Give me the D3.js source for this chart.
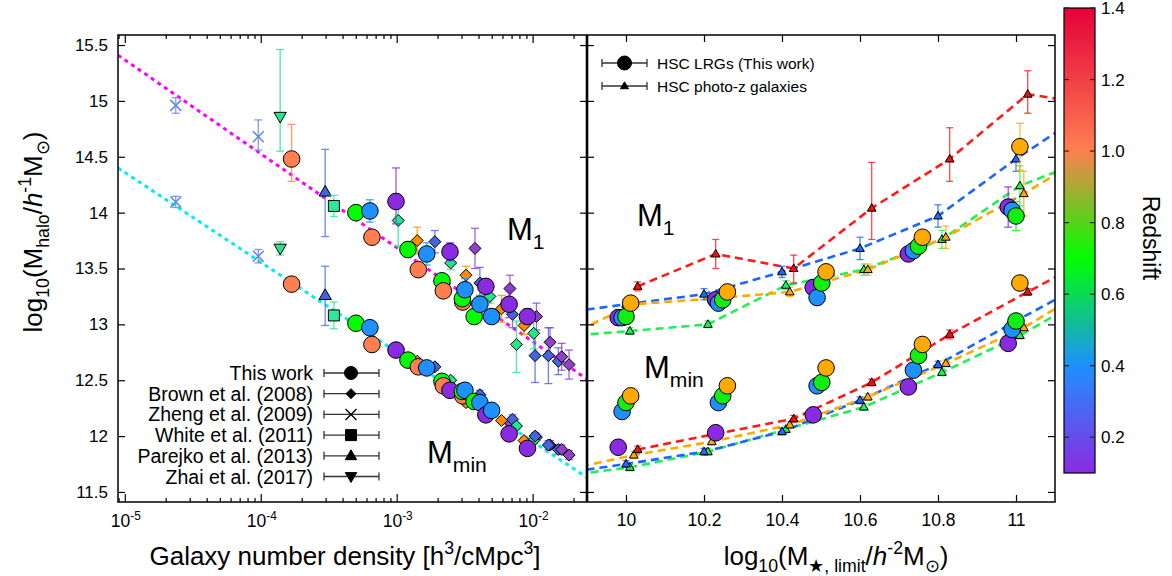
<!DOCTYPE html>
<html><head><meta charset="utf-8">
<script src="https://cdn.jsdelivr.net/npm/d3@7"></script>
<style>
html,body{margin:0;padding:0;background:#fff;}
svg text{font-family:"Liberation Sans",Arial,Helvetica,sans-serif;fill:#000;}
</style></head>
<body><svg id="chart" width="1172" height="576" xmlns="http://www.w3.org/2000/svg"></svg>
<script>
// ================= DATA =================
const yTickValues = [11.5, 12, 12.5, 13, 13.5, 14, 14.5, 15, 15.5];
const densityDecades = [-5, -4, -3, -2];
const massTicks = [10, 10.2, 10.4, 10.6, 10.8, 11];
const zTicks = [0.2, 0.4, 0.6, 0.8, 1.0, 1.2, 1.4];

// power-law fits (log10 density, log10 M)
const fitLogN = [-5.05, -1.6];
const fitM1 = [15.41, 12.51];
const fitMmin = [14.40, 11.63];

// This work (HSC LRGs) in left panel
const lrgLogN = [-3.773,-3.300,-3.197,-3.182,-3.005,-2.917,-2.841,-2.779,-2.667,-2.657,-2.608,-2.514,-2.517,-2.498,-2.430,-2.388,-2.344,-2.302,-2.173,-2.038];
const lrgZ    = [1.0,0.7,0.4,1.0,0.1,0.7,1.0,0.4,0.7,1.0,0.1,1.0,0.7,0.4,0.7,0.4,0.1,0.4,0.1,0.1];
const lrgM1   = [14.48,14.00,14.015,13.78,14.10,13.67,13.49,13.63,13.39,13.30,13.65,13.20,13.23,13.31,13.07,13.18,13.34,13.07,13.18,13.07];
const lrgM1Up = [0.31,0.05,0.10,0.03,0.30,0.04,0.03,0.10,0.03,0.03,0.08,0.03,0.03,0.10,0.03,0.08,0.05,0.04,0.12,0.07];
const lrgM1Dn = [0.20,0.05,0.10,0.03,0.20,0.04,0.03,0.10,0.03,0.03,0.08,0.03,0.03,0.10,0.03,0.08,0.05,0.04,0.12,0.07];
const lrgMmin = [13.36,13.01,12.97,12.82,12.77,12.68,12.62,12.61,12.49,12.45,12.41,12.36,12.40,12.41,12.31,12.30,12.19,12.23,12.02,11.89];
const lrgMminErr = [0.03,0.03,0.03,0.03,0.03,0.03,0.03,0.03,0.03,0.03,0.03,0.03,0.03,0.03,0.03,0.03,0.03,0.03,0.03,0.03];

// Brown et al. (2008)
const brownLogN  = [-2.989,-2.849,-2.719,-2.603,-2.424,-2.490,-2.388,-2.314,-2.167,-2.229,-2.148,-2.063,-1.972,-1.992,-2.119,-1.982,-1.872,-1.884,-1.811,-1.786,-1.732];
const brownGroup = ["g","o","b","g","p","o","b","g","p","o","b","o","p","g","g","b","p","b","b","p","p"];
const brownM1    = [13.93,13.75,13.74,13.55,13.68,13.44,13.37,13.25,13.32,13.14,13.09,12.99,13.07,12.92,12.82,12.72,12.84,12.72,12.67,12.71,12.64];
const brownM1Up  = [0.12,0.12,0.10,0.06,0.18,0.08,0.14,0.06,0.12,0.12,0.12,0.08,0.12,0.14,0.21,0.20,0.13,0.25,0.12,0.12,0.13];
const brownM1Dn  = [0.23,0.12,0.10,0.06,0.18,0.08,0.14,0.06,0.12,0.12,0.12,0.08,0.12,0.14,0.25,0.24,0.13,0.25,0.12,0.12,0.13];
const brownMmin  = [12.78,12.67,12.62,12.50,12.33,12.30,12.37,12.25,12.12,12.14,12.15,11.96,11.99,11.96,12.09,12.00,11.92,11.92,11.88,11.88,11.83];
const brownMminErr = [0.03,0.03,0.03,0.03,0.03,0.03,0.04,0.03,0.03,0.03,0.04,0.03,0.03,0.03,0.03,0.03,0.04,0.04,0.04,0.04,0.04];

// Zheng et al. (2009)
const zhengLogN = [-4.625, -4.018];
const zhengM1 = [14.96, 14.68];
const zhengM1Up = [0.07, 0.15];
const zhengM1Dn = [0.07, 0.12];
const zhengMmin = [14.096, 13.61];
const zhengMminErr = [0.05, 0.06];
// White et al. (2011)
const whiteLogN = [-3.462];
const whiteM1 = [14.06]; const whiteM1Err = [0.095];
const whiteMmin = [13.08]; const whiteMminErr = [0.12];
// Parejko et al. (2013)
const parejkoLogN = [-3.526];
const parejkoM1 = [14.186]; const parejkoM1Up = [0.38]; const parejkoM1Dn = [0.40];
const parejkoMmin = [13.26]; const parejkoMminUp = [0.26]; const parejkoMminDn = [0.27];
// Zhai et al. (2017)
const zhaiLogN = [-3.857];
const zhaiM1 = [14.86]; const zhaiM1Up = [0.60]; const zhaiM1Dn = [0.31];
const zhaiMmin = [13.68]; const zhaiMminErr = [0.06];

// Right panel: HSC LRGs (circles)
const lrgPurpleMass = [9.98, 10.23, 10.48, 10.724, 10.98];
const lrgPurpleM1 = [13.06, 13.22, 13.33, 13.63, 14.05];
const lrgPurpleM1Err = [0.05, 0.05, 0.05, 0.06, 0.18];
const lrgPurpleMmin = [11.90, 12.03, 12.19, 12.44, 12.83];
const lrgBlueMass = [9.99, 10.237, 10.49, 10.737, 10.99];
const lrgBlueM1 = [13.06, 13.19, 13.24, 13.66, 14.02];
const lrgBlueM1Err = [0.05, 0.05, 0.05, 0.05, 0.10];
const lrgBlueMmin = [12.22, 12.30, 12.45, 12.59, 12.955];
const lrgGreenMass = [10.0, 10.248, 10.502, 10.75, 11.0];
const lrgGreenM1 = [13.07, 13.22, 13.37, 13.70, 13.97];
const lrgGreenM1Err = [0.04, 0.04, 0.04, 0.05, 0.13];
const lrgGreenMmin = [12.30, 12.36, 12.48, 12.72, 13.03];
const lrgOrangeMass = [10.012, 10.26, 10.513, 10.76, 11.01];
const lrgOrangeM1 = [13.19, 13.29, 13.47, 13.78, 14.59];
const lrgOrangeM1Err = [0.04, 0.04, 0.04, 0.05, 0.21];
const lrgOrangeMmin = [12.36, 12.45, 12.61, 12.82, 13.37];
const lrgRightMminErr = [0.03, 0.03, 0.03, 0.03, 0.05];

// Right panel: HSC photo-z galaxies (triangles + dashed lines); first/last points fall outside the frame
const pzRedMass = [10.03, 10.23, 10.43, 10.63, 10.83, 11.03, 11.23];
const pzRedM1 = [13.34, 13.63, 13.50, 14.04, 14.48, 15.06, 14.95];
const pzRedM1Up = [0.04, 0.13, 0.12, 0.41, 0.28, 0.21, 0];
const pzRedM1Dn = [0.04, 0.13, 0.13, 0.28, 0.20, 0.17, 0];
const pzRedMmin = [11.88, 12.02, 12.155, 12.48, 12.91, 13.29, 13.66];
const pzRedMminErr = [0.03, 0.03, 0.03, 0.03, 0.04, 0.03, 0];

const pzBlueMass = [9.8, 10.0, 10.2, 10.4, 10.6, 10.8, 11.0, 11.2];
const pzBlueM1 = [13.085, 13.18, 13.27, 13.47, 13.68, 13.97, 14.48, 14.945];
const pzBlueM1Err = [0, 0.04, 0.05, 0.05, 0.10, 0.10, 0.11, 0];
const pzBlueMmin = [11.65, 11.75, 11.86, 12.04, 12.32, 12.64, 13.03, 13.41];
const pzBlueMminErr = [0, 0.03, 0.03, 0.03, 0.03, 0.03, 0.03, 0];

const pzGreenMass = [9.81, 10.01, 10.21, 10.41, 10.61, 10.81, 11.01, 11.21];
const pzGreenM1 = [12.886, 12.94, 13.00, 13.35, 13.49, 13.76, 14.24, 14.51];
const pzGreenM1Err = [0, 0.03, 0.03, 0.04, 0.05, 0.08, 0.18, 0];
const pzGreenMmin = [11.63, 11.72, 11.86, 12.06, 12.26, 12.57, 12.90, 13.30];
const pzGreenMminErr = [0, 0.03, 0.03, 0.03, 0.03, 0.03, 0.03, 0];

const pzOrangeMass = [9.82, 10.02, 10.22, 10.42, 10.62, 10.82, 11.02, 11.22];
const pzOrangeM1 = [12.85, 13.18, 13.23, 13.29, 13.49, 13.78, 14.17, 14.59];
const pzOrangeM1Err = [0, 0.03, 0.03, 0.04, 0.05, 0.10, 0.20, 0];
const pzOrangeMmin = [11.68, 11.83, 11.95, 12.10, 12.35, 12.65, 12.97, 13.39];
const pzOrangeMminErr = [0, 0.03, 0.03, 0.03, 0.03, 0.03, 0.03, 0];

const legendLeftNames = ["This work", "Brown et al. (2008)", "Zheng et al. (2009)", "White et al. (2011)", "Parejko et al. (2013)", "Zhai et al. (2017)"];
const legendRightNames = ["HSC LRGs (This work)", "HSC photo-z galaxies"];

// ================= STYLES / SCALES =================
const FONT = '"Liberation Sans",Arial,Helvetica,sans-serif';
const PL = {x0:118, x1:587, y0:35, y1:502};
const PR = {x0:587, x1:1055, y0:35, y1:502};
const CB = {x0:1064, x1:1095};

const svg = d3.select("#chart");
svg.append("rect").attr("width",1172).attr("height",576).attr("fill","#fff");

const xL = d3.scaleLog().domain([Math.pow(10,-5.05), Math.pow(10,-1.6)]).range([PL.x0, PL.x1]);
const xR = d3.scaleLinear().domain([9.9, 11.1]).range([PR.x0, PR.x1]);
const y = d3.scaleLinear().domain([11.41, 15.59]).range([PL.y1, PL.y0]);
const zScale = d3.scaleLinear().domain([0.1, 1.4]).range([473, 8]);
const zColor = d3.scaleLinear().domain([0.1,0.4,0.7,1.0,1.4]).range(["#8a2be2","#1e90ff","#00ff00","#ff7f50","#e4003a"]);

const brownColors = {p:"#9040cc", b:"#4466dd", g:"#1ee88a", o:"#ff8c00"};
const pzColors = {red:"#ee1111", blue:"#1a6bff", green:"#22ee55", orange:"#ffaa00"};
const pzLine = {red:"#ff1a1a", blue:"#1a66ff", green:"#22ee55", orange:"#ffaa00"};
const rightCircleColors = {purple:"#8a2be2", blue:"#1e90ff", green:"#11ee11", orange:"#ffaa00"};

const defs = svg.append("defs");
defs.append("clipPath").attr("id","clipL").append("rect")
  .attr("x",PL.x0).attr("y",PL.y0).attr("width",PL.x1-PL.x0).attr("height",PL.y1-PL.y0);
defs.append("clipPath").attr("id","clipR").append("rect")
  .attr("x",PR.x0).attr("y",PR.y0).attr("width",PR.x1-PR.x0).attr("height",PR.y1-PR.y0);

function errBar(g, x, yc, up, dn, color, cap, w){
  cap = cap || 4; w = w || 1.3;
  if(!(up>0 || dn>0)) return;
  const ya = y(yc+up), yb = y(yc-dn);
  g.append("line").attr("x1",x).attr("x2",x).attr("y1",ya).attr("y2",yb)
    .attr("stroke",color).attr("stroke-width",w).attr("stroke-opacity",0.8);
  [ya,yb].forEach(v => g.append("line").attr("x1",x-cap).attr("x2",x+cap).attr("y1",v).attr("y2",v)
    .attr("stroke",color).attr("stroke-width",w).attr("stroke-opacity",0.8));
}
const shapes = {
  diamond: s => `M0,${-s}L${s},0L0,${s}L${-s},0Z`,
  square: s => `M${-s},${-s}H${s}V${s}H${-s}Z`,
  triUp: s => `M0,${-s}L${s*0.95},${s*0.65}L${-s*0.95},${s*0.65}Z`,
  triDown: s => `M0,${s}L${s*0.95},${-s*0.65}L${-s*0.95},${-s*0.65}Z`,
  cross: s => `M${-s},${-s}L${s},${s}M${-s},${s}L${s},${-s}`
};
function marker(g, type, x, yy, size, fill, stroke, sw){
  stroke = stroke || "#000"; sw = sw || 1;
  if(type === "circle")
    return g.append("circle").attr("cx",x).attr("cy",yy).attr("r",size).attr("fill",fill).attr("stroke",stroke).attr("stroke-width",sw);
  if(type === "cross")
    return g.append("path").attr("d",shapes.cross(size)).attr("transform",`translate(${x},${yy})`)
      .attr("fill","none").attr("stroke",fill).attr("stroke-width",1.5);
  return g.append("path").attr("d",shapes[type](size)).attr("transform",`translate(${x},${yy})`)
    .attr("fill",fill).attr("stroke",stroke).attr("stroke-width",sw);
}
function rich(t, parts, base){
  let off = 0;
  parts.forEach(p => {
    const s = p[0], type = p[1] || "n";
    const ts = t.append("tspan").text(s);
    let target = 0;
    if(type === "sub"){ target = base*0.28; ts.attr("font-size", base*0.68); }
    else if(type === "sup"){ target = -base*0.42; ts.attr("font-size", base*0.68); }
    else if(type === "it"){ ts.attr("font-style","italic"); }
    if(target - off !== 0) ts.attr("dy", target - off);
    off = target;
  });
  return t;
}

// ================= LEFT PANEL DATA =================
const gL = svg.append("g").attr("clip-path","url(#clipL)");
const lineL = d3.line().x(d => xL(Math.pow(10,d[0]))).y(d => y(d[1]));
gL.append("path").datum(d3.zip(fitLogN, fitM1)).attr("d", lineL)
  .attr("fill","none").attr("stroke","#ff00ff").attr("stroke-width",3).attr("stroke-dasharray","4,4");
gL.append("path").datum(d3.zip(fitLogN, fitMmin)).attr("d", lineL)
  .attr("fill","none").attr("stroke","#00eeee").attr("stroke-width",3).attr("stroke-dasharray","4,4");

const xn = l => xL(Math.pow(10,l));
// Zheng
zhengLogN.forEach((l,i) => {
  errBar(gL, xn(l), zhengM1[i], zhengM1Up[i], zhengM1Dn[i], "#5f86ea", 4);
  errBar(gL, xn(l), zhengMmin[i], zhengMminErr[i], zhengMminErr[i], "#5f86ea", 4);
  marker(gL, "cross", xn(l), y(zhengM1[i]), 5.5, "#5f86ea");
  marker(gL, "cross", xn(l), y(zhengMmin[i]), 5.5, "#5f86ea");
});
// Zhai
zhaiLogN.forEach((l,i) => {
  errBar(gL, xn(l), zhaiM1[i], zhaiM1Up[i], zhaiM1Dn[i], "#22e88c", 4);
  errBar(gL, xn(l), zhaiMmin[i], zhaiMminErr[i], zhaiMminErr[i], "#22e88c", 4);
  marker(gL, "triDown", xn(l), y(zhaiM1[i]), 6.5, "#22e88c");
  marker(gL, "triDown", xn(l), y(zhaiMmin[i]), 6.5, "#22e88c");
});
// Parejko
parejkoLogN.forEach((l,i) => {
  errBar(gL, xn(l), parejkoM1[i], parejkoM1Up[i], parejkoM1Dn[i], "#4a70e0", 4);
  errBar(gL, xn(l), parejkoMmin[i], parejkoMminUp[i], parejkoMminDn[i], "#4a70e0", 4);
  marker(gL, "triUp", xn(l), y(parejkoM1[i]), 6.5, "#3f63d8");
  marker(gL, "triUp", xn(l), y(parejkoMmin[i]), 6.5, "#3f63d8");
});
// White
whiteLogN.forEach((l,i) => {
  errBar(gL, xn(l), whiteM1[i], whiteM1Err[i], whiteM1Err[i], "#2ee89a", 4);
  errBar(gL, xn(l), whiteMmin[i], whiteMminErr[i], whiteMminErr[i], "#2ee89a", 4);
  marker(gL, "square", xn(l), y(whiteM1[i]), 5.5, "#2ee89a");
  marker(gL, "square", xn(l), y(whiteMmin[i]), 5.5, "#2ee89a");
});
// Brown
brownLogN.forEach((l,i) => {
  const c = brownColors[brownGroup[i]];
  errBar(gL, xn(l), brownM1[i], brownM1Up[i], brownM1Dn[i], c, 4);
  errBar(gL, xn(l), brownMmin[i], brownMminErr[i], brownMminErr[i], c, 4);
});
brownLogN.forEach((l,i) => {
  const c = brownColors[brownGroup[i]];
  marker(gL, "diamond", xn(l), y(brownM1[i]), 6, c);
  marker(gL, "diamond", xn(l), y(brownMmin[i]), 6, c);
});
// This work
lrgLogN.forEach((l,i) => {
  const c = zColor(lrgZ[i]);
  errBar(gL, xn(l), lrgM1[i], lrgM1Up[i], lrgM1Dn[i], c, 4);
  errBar(gL, xn(l), lrgMmin[i], lrgMminErr[i], lrgMminErr[i], c, 4);
});
lrgLogN.forEach((l,i) => {
  const c = zColor(lrgZ[i]);
  marker(gL, "circle", xn(l), y(lrgM1[i]), 8.3, c);
  marker(gL, "circle", xn(l), y(lrgMmin[i]), 8.3, c);
});

// ================= RIGHT PANEL DATA =================
const gR = svg.append("g").attr("clip-path","url(#clipR)");
const pzSeries = [
  {k:"green", mass:pzGreenMass, m1:pzGreenM1, m1Up:pzGreenM1Err, m1Dn:pzGreenM1Err, mmin:pzGreenMmin, mminErr:pzGreenMminErr},
  {k:"blue", mass:pzBlueMass, m1:pzBlueM1, m1Up:pzBlueM1Err, m1Dn:pzBlueM1Err, mmin:pzBlueMmin, mminErr:pzBlueMminErr},
  {k:"orange", mass:pzOrangeMass, m1:pzOrangeM1, m1Up:pzOrangeM1Err, m1Dn:pzOrangeM1Err, mmin:pzOrangeMmin, mminErr:pzOrangeMminErr},
  {k:"red", mass:pzRedMass, m1:pzRedM1, m1Up:pzRedM1Up, m1Dn:pzRedM1Dn, mmin:pzRedMmin, mminErr:pzRedMminErr}
];
const lineR = d3.line().x(d => xR(d[0])).y(d => y(d[1]));
pzSeries.forEach(s => {
  [s.m1, s.mmin].forEach(arr => {
    gR.append("path").datum(d3.zip(s.mass, arr)).attr("d", lineR)
      .attr("fill","none").attr("stroke", pzLine[s.k]).attr("stroke-width",2.6).attr("stroke-dasharray","8,5");
  });
});
pzSeries.forEach(s => {
  s.mass.forEach((m,i) => {
    errBar(gR, xR(m), s.m1[i], s.m1Up[i], s.m1Dn[i], pzLine[s.k], 3.5);
    errBar(gR, xR(m), s.mmin[i], s.mminErr[i], s.mminErr[i], pzLine[s.k], 3.5);
  });
});
pzSeries.forEach(s => {
  s.mass.forEach((m,i) => {
    marker(gR, "triUp", xR(m), y(s.m1[i]), 4.6, pzColors[s.k]);
    marker(gR, "triUp", xR(m), y(s.mmin[i]), 4.6, pzColors[s.k]);
  });
});
const lrgRight = [
  {k:"purple", mass:lrgPurpleMass, m1:lrgPurpleM1, m1Err:lrgPurpleM1Err, mmin:lrgPurpleMmin},
  {k:"blue", mass:lrgBlueMass, m1:lrgBlueM1, m1Err:lrgBlueM1Err, mmin:lrgBlueMmin},
  {k:"green", mass:lrgGreenMass, m1:lrgGreenM1, m1Err:lrgGreenM1Err, mmin:lrgGreenMmin},
  {k:"orange", mass:lrgOrangeMass, m1:lrgOrangeM1, m1Err:lrgOrangeM1Err, mmin:lrgOrangeMmin}
];
lrgRight.forEach(s => s.mass.forEach((m,i) => {
  errBar(gR, xR(m), s.m1[i], s.m1Err[i], s.m1Err[i], rightCircleColors[s.k], 4);
  errBar(gR, xR(m), s.mmin[i], lrgRightMminErr[i], lrgRightMminErr[i], rightCircleColors[s.k], 4);
}));
lrgRight.forEach(s => s.mass.forEach((m,i) => {
  marker(gR, "circle", xR(m), y(s.m1[i]), 8.3, rightCircleColors[s.k]);
  marker(gR, "circle", xR(m), y(s.mmin[i]), 8.3, rightCircleColors[s.k]);
}));

// ================= AXES =================
function styleAxis(g, fs){
  g.select(".domain").remove();
  g.selectAll(".tick line").attr("stroke","#000").attr("stroke-width",1.2);
  g.attr("font-family", FONT).attr("font-size", fs || 17);
  g.selectAll(".tick text").attr("fill","#000");
  return g;
}
// y axes (left panel both sides, right panel both sides)
styleAxis(svg.append("g").attr("transform",`translate(${PL.x0},0)`)
  .call(d3.axisLeft(y).tickValues(yTickValues).tickSize(-7).tickPadding(10).tickFormat(d3.format(""))));
styleAxis(svg.append("g").attr("transform",`translate(${PL.x1},0)`)
  .call(d3.axisRight(y).tickValues(yTickValues).tickSize(-7).tickFormat("")));
styleAxis(svg.append("g").attr("transform",`translate(${PR.x0},0)`)
  .call(d3.axisLeft(y).tickValues(yTickValues).tickSize(-7).tickFormat("")));
styleAxis(svg.append("g").attr("transform",`translate(${PR.x1},0)`)
  .call(d3.axisRight(y).tickValues(yTickValues).tickSize(-7).tickFormat("")));
// left x (log)
const majorN = densityDecades.map(e => Math.pow(10,e));
const minorN = [];
[-6,-5,-4,-3,-2].forEach(e => { for(let m=2;m<=9;m++){ const v=m*Math.pow(10,e); const [a,b]=xL.domain(); if(v>a && v<b) minorN.push(v);} });
styleAxis(svg.append("g").attr("transform",`translate(0,${PL.y1})`).call(d3.axisBottom(xL).tickValues(majorN).tickSize(-8).tickFormat("")));
styleAxis(svg.append("g").attr("transform",`translate(0,${PL.y1})`).call(d3.axisBottom(xL).tickValues(minorN).tickSize(-4).tickFormat("")));
styleAxis(svg.append("g").attr("transform",`translate(0,${PL.y0})`).call(d3.axisTop(xL).tickValues(majorN).tickSize(-8).tickFormat("")));
styleAxis(svg.append("g").attr("transform",`translate(0,${PL.y0})`).call(d3.axisTop(xL).tickValues(minorN).tickSize(-4).tickFormat("")));
densityDecades.forEach(e => {
  const t = svg.append("text").attr("x", xL(Math.pow(10,e)) + 1).attr("y", 527)
    .attr("text-anchor","middle").attr("font-size",17.5);
  rich(t, [["10"],[String(e),"sup"]], 17.5);
});
// right x
styleAxis(svg.append("g").attr("transform",`translate(0,${PR.y1})`)
  .call(d3.axisBottom(xR).tickValues(massTicks).tickSize(-7).tickPadding(12).tickFormat(d3.format(""))), 17.5);
styleAxis(svg.append("g").attr("transform",`translate(0,${PR.y0})`)
  .call(d3.axisTop(xR).tickValues(massTicks).tickSize(-7).tickFormat("")));

// frames
svg.append("rect").attr("x",PL.x0).attr("y",PL.y0).attr("width",PR.x1-PL.x0).attr("height",PL.y1-PL.y0)
  .attr("fill","none").attr("stroke","#000").attr("stroke-width",1.5);
svg.append("line").attr("x1",PL.x1).attr("x2",PL.x1).attr("y1",PL.y0).attr("y2",PL.y1)
  .attr("stroke","#000").attr("stroke-width",2.6);

// ================= LABELS =================
rich(svg.append("text").attr("transform","translate(42,232) rotate(-90)").attr("text-anchor","middle").attr("font-size",26),
  [["log"],["10","sub"],["(M"],["halo","sub"],["/"],["h","it"],["-1","sup"],["M"],["\u2299","sub"],[")"]], 26);
rich(svg.append("text").attr("x",345).attr("y",565).attr("text-anchor","middle").attr("font-size",26),
  [["Galaxy number density [h"],["3","sup"],["/cMpc"],["3","sup"],["]"]], 26);
rich(svg.append("text").attr("x",836).attr("y",565).attr("text-anchor","middle").attr("font-size",26),
  [["log"],["10","sub"],["(M"],["\u2605, limit","sub"],["/"],["h","it"],["-2","sup"],["M"],["\u2299","sub"],[")"]], 26);

function mLabel(x, yb, sub){
  rich(svg.append("text").attr("x",x).attr("y",yb).attr("font-size",31), [["M"],[sub,"sub"]], 31);
}
mLabel(507, 240, "1");
mLabel(427, 463, "min");
mLabel(637, 226, "1");
mLabel(644, 378, "min");

// left legend
const legLTypes = ["circle","diamond","cross","square","triUp","triDown"];
const legLSize = [6.5, 5, 5.5, 5.5, 6, 6];
legendLeftNames.forEach((name,i) => {
  const yy = 373 + i*20.7;
  svg.append("text").attr("x",313).attr("y",yy+7).attr("text-anchor","end").attr("font-size",19.5).text(name);
  const g = svg.append("g");
  g.append("line").attr("x1",324).attr("x2",379).attr("y1",yy).attr("y2",yy).attr("stroke","#333").attr("stroke-width",1.3);
  [324,379].forEach(xx => g.append("line").attr("x1",xx).attr("x2",xx).attr("y1",yy-4).attr("y2",yy+4).attr("stroke","#333").attr("stroke-width",1.3));
  if(legLTypes[i] === "cross") g.append("path").attr("d",shapes.cross(5.5)).attr("transform",`translate(351,${yy})`).attr("stroke","#000").attr("stroke-width",1.4).attr("fill","none");
  else marker(g, legLTypes[i], 351, yy, legLSize[i], "#000");
});
// right legend
legendRightNames.forEach((name,i) => {
  const yy = 63 + i*23;
  svg.append("text").attr("x",657).attr("y",yy+5.5).attr("font-size",15.5).text(name);
  const g = svg.append("g");
  g.append("line").attr("x1",602).attr("x2",647).attr("y1",yy).attr("y2",yy).attr("stroke","#333").attr("stroke-width",1.3);
  [602,647].forEach(xx => g.append("line").attr("x1",xx).attr("x2",xx).attr("y1",yy-4).attr("y2",yy+4).attr("stroke","#333").attr("stroke-width",1.3));
  if(i===0) marker(g, "circle", 624.5, yy, 7, "#000");
  else marker(g, "triUp", 624.5, yy, 4.2, "#000");
});

// ================= COLORBAR =================
const grad = defs.append("linearGradient").attr("id","zgrad").attr("x1","0").attr("y1","1").attr("x2","0").attr("y2","0");
d3.range(0, 1.0001, 0.02).forEach(f => {
  const z = 0.1 + f*1.3;
  grad.append("stop").attr("offset", f).attr("stop-color", zColor(z));
});
svg.append("rect").attr("x",CB.x0).attr("y",zScale(1.4)).attr("width",CB.x1-CB.x0).attr("height",zScale(0.1)-zScale(1.4))
  .attr("fill","url(#zgrad)").attr("stroke","#000").attr("stroke-width",1.2);
zTicks.forEach(z => {
  const yy = zScale(z);
  svg.append("line").attr("x1",CB.x0).attr("x2",CB.x0+5).attr("y1",yy).attr("y2",yy).attr("stroke","#222").attr("stroke-width",1.2);
  svg.append("line").attr("x1",CB.x1-5).attr("x2",CB.x1).attr("y1",yy).attr("y2",yy).attr("stroke","#222").attr("stroke-width",1.2);
  svg.append("text").attr("x",CB.x1+6).attr("y",yy+6).attr("font-size",17).text(d3.format(".1f")(z));
});
svg.append("text").attr("transform","translate(1143,238) rotate(90)").attr("text-anchor","middle").attr("font-size",23).text("Redshift");
</script></body></html>
